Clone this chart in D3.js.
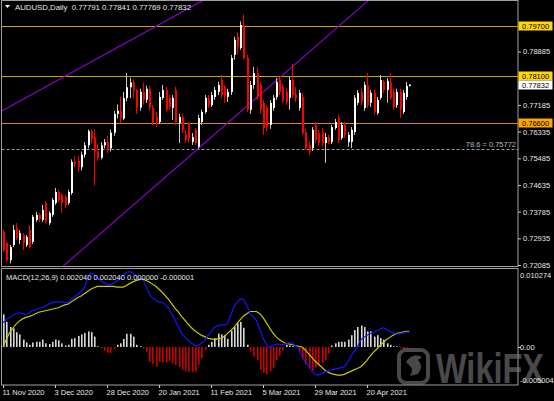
<!DOCTYPE html>
<html><head><meta charset="utf-8">
<script src="https://cdn.jsdelivr.net/npm/d3@7/dist/d3.min.js"></script>
<style>
html,body{margin:0;padding:0;background:#000;}
svg{display:block;}
text{font-family:"Liberation Sans",Arial,sans-serif;}
</style></head><body>
<svg id="c" width="554" height="401"></svg>
<script>
// ---------------- DATA ----------------
const symbolTitle = "AUDUSD,Daily";
const lastOHLC = [0.77791, 0.77841, 0.77769, 0.77832];
const macdTitle = "MACD(12,26,9)";
const macdTitleValues = ["0.002040", "0.002040", "0.000000", "-0.000001"];

const open = [0.7314,0.7279,0.7224,0.7272,0.7326,0.7288,0.7304,0.7272,0.7320,0.7282,
0.7352,0.7368,0.7352,0.7406,0.7342,0.7368,0.7406,0.7441,0.7432,0.7425,
0.7406,0.7438,0.7537,0.7540,0.7520,0.7560,0.7590,0.7635,0.7615,0.7570,
0.7550,0.7590,0.7600,0.7580,0.7630,0.7690,0.7700,0.7675,0.7740,0.7775,
0.7790,0.7765,0.7710,0.7760,0.7735,0.7770,0.7709,0.7680,0.7664,0.7741,
0.7766,0.7741,0.7709,0.7766,0.7661,0.7680,0.7623,0.7661,0.7601,0.7639,
0.7585,0.7664,0.7696,0.7741,0.7718,0.7744,0.7760,0.7798,0.7776,0.7744,
0.7760,0.7878,0.7936,0.7900,0.7973,0.7868,0.7703,0.7782,0.7820,0.7782,
0.7725,0.7709,0.7655,0.7709,0.7744,0.7798,0.7776,0.7760,0.7741,0.7798,
0.7750,0.7709,0.7744,0.7632,0.7591,0.7581,0.7655,0.7629,0.7632,0.7597,
0.7616,0.7601,0.7645,0.7677,0.7613,0.7655,0.7600,0.7601,0.7632,0.7725,
0.7760,0.7709,0.7782,0.7725,0.7757,0.7693,0.7741,0.7792,0.7766,0.7789,
0.7760,0.7718,0.7760,0.7696,0.7744,0.77791];
const high = [0.7320,0.7282,0.7272,0.7336,0.7342,0.7320,0.7310,0.7304,0.7336,0.7368,
0.7378,0.7374,0.7400,0.7412,0.7380,0.7422,0.7454,0.7448,0.7438,0.7432,
0.7448,0.7545,0.7555,0.7555,0.7570,0.7600,0.7640,0.7640,0.7640,0.7595,
0.7600,0.7610,0.7620,0.7640,0.7700,0.7720,0.7745,0.7760,0.7820,0.7805,
0.7800,0.7770,0.7770,0.7790,0.7780,0.7780,0.7718,0.7696,0.7760,0.7782,
0.7776,0.7750,0.7750,0.7776,0.7690,0.7690,0.7639,0.7664,0.7629,0.7645,
0.7687,0.7703,0.7750,0.7750,0.7760,0.7776,0.7792,0.7814,0.7782,0.7770,
0.7878,0.7936,0.7950,0.7985,0.8007,0.7878,0.7795,0.7840,0.7840,0.7792,
0.7735,0.7718,0.7734,0.7750,0.7804,0.7808,0.7786,0.7770,0.7808,0.7849,
0.7776,0.7766,0.7757,0.7642,0.7601,0.7648,0.7664,0.7639,0.7645,0.7629,
0.7623,0.7655,0.7674,0.7687,0.7664,0.7664,0.7632,0.7648,0.7750,0.7766,
0.7770,0.7792,0.7820,0.7766,0.7766,0.7744,0.7814,0.7798,0.7804,0.7820,
0.7770,0.7770,0.7770,0.7766,0.7792,0.77841];
const low = [0.7250,0.7218,0.7214,0.7266,0.7288,0.7275,0.7256,0.7266,0.7260,0.7275,
0.7346,0.7346,0.7346,0.7340,0.7336,0.7362,0.7400,0.7410,0.7374,0.7390,
0.7400,0.7432,0.7520,0.7505,0.7510,0.7550,0.7580,0.7595,0.7462,0.7540,
0.7545,0.7580,0.7565,0.7570,0.7620,0.7675,0.7660,0.7670,0.7730,0.7740,
0.7740,0.7690,0.7700,0.7720,0.7725,0.7700,0.7655,0.7648,0.7658,0.7735,
0.7696,0.7703,0.7671,0.7655,0.7597,0.7629,0.7597,0.7597,0.7591,0.7591,
0.7581,0.7655,0.7690,0.7709,0.7712,0.7735,0.7750,0.7741,0.7725,0.7728,
0.7750,0.7862,0.7880,0.7894,0.7862,0.7696,0.7690,0.7770,0.7735,0.7690,
0.7623,0.7635,0.7642,0.7700,0.7735,0.7750,0.7725,0.7718,0.7703,0.7741,
0.7728,0.7700,0.7623,0.7575,0.7559,0.7572,0.7597,0.7588,0.7585,0.7534,
0.7594,0.7594,0.7639,0.7597,0.7607,0.7613,0.7585,0.7581,0.7623,0.7718,
0.7718,0.7700,0.7709,0.7712,0.7687,0.7687,0.7735,0.7757,0.7725,0.7735,
0.7703,0.7709,0.7677,0.7690,0.7735,0.77769];
const close = [0.7256,0.7224,0.7266,0.7320,0.7295,0.7310,0.7279,0.7298,0.7266,0.7362,
0.7368,0.7355,0.7384,0.7346,0.7374,0.7416,0.7441,0.7416,0.7406,0.7400,
0.7441,0.7537,0.7530,0.7520,0.7560,0.7590,0.7635,0.7610,0.7570,0.7550,
0.7590,0.7600,0.7580,0.7630,0.7690,0.7700,0.7675,0.7740,0.7775,0.7790,
0.7765,0.7710,0.7760,0.7735,0.7770,0.7710,0.7661,0.7664,0.7744,0.7766,
0.7703,0.7712,0.7741,0.7664,0.7680,0.7639,0.7607,0.7613,0.7616,0.7597,
0.7677,0.7696,0.7741,0.7718,0.7750,0.7766,0.7782,0.7750,0.7744,0.7760,
0.7868,0.7926,0.7904,0.7973,0.7868,0.7703,0.7782,0.7820,0.7744,0.7703,
0.7645,0.7648,0.7725,0.7741,0.7792,0.7760,0.7734,0.7728,0.7798,0.7750,
0.7741,0.7757,0.7629,0.7581,0.7569,0.7639,0.7607,0.7597,0.7597,0.7616,
0.7601,0.7648,0.7664,0.7607,0.7655,0.7623,0.7623,0.7639,0.7741,0.7757,
0.7728,0.7782,0.7718,0.7757,0.7696,0.7734,0.7798,0.7766,0.7795,0.7741,
0.7712,0.7760,0.7703,0.7757,0.7779,0.77832];

const macdMain = [0.0033,0.0037,0.0040,0.0043,0.0045,0.0046,0.0045,0.0044,0.0046,0.0049,
0.0050,0.0052,0.0053,0.0055,0.0058,0.0060,0.0061,0.0061,0.0061,0.0060,
0.0060,0.0064,0.0068,0.0071,0.0075,0.0080,0.0092,0.0100,0.0098,0.0094,
0.0090,0.0087,0.0085,0.0084,0.0086,0.0089,0.0093,0.0097,0.0101,0.0102,
0.0100,0.0096,0.0093,0.0092,0.0082,0.0072,0.0066,0.0063,0.0061,0.0060,
0.0057,0.0052,0.0044,0.0036,0.0027,0.0018,0.0013,0.0009,0.0005,0.0002,
0.0002,0.0005,0.0009,0.0015,0.0020,0.0026,0.0029,0.0030,0.0030,0.0031,
0.0042,0.0054,0.0060,0.0065,0.0064,0.0057,0.0045,0.0041,0.0036,0.0024,
0.0012,0.0004,-0.0001,0.0002,0.0004,0.0004,0.0003,0.0004,0.0006,0.0005,
0.0002,-0.0003,-0.0013,-0.0020,-0.0026,-0.0032,-0.0037,-0.0038,-0.0036,-0.0034,
-0.0032,-0.0031,-0.0030,-0.0029,-0.0028,-0.0027,-0.0021,-0.0013,-0.0006,0.0000,
0.0009,0.0013,0.0016,0.0018,0.0020,0.0022,0.0024,0.0026,0.0024,0.0021,
0.0019,0.0017,0.0018,0.0019,0.0020,0.0020];
const macdSignal = [0.0000,0.0010,0.0019,0.0025,0.0031,0.0035,0.0038,0.0040,0.0041,0.0043,
0.0045,0.0047,0.0048,0.0049,0.0050,0.0051,0.0052,0.0053,0.0055,0.0057,
0.0058,0.0061,0.0064,0.0067,0.0069,0.0072,0.0075,0.0078,0.0080,0.0082,
0.0082,0.0082,0.0082,0.0082,0.0082,0.0081,0.0081,0.0081,0.0083,0.0086,
0.0088,0.0090,0.0091,0.0092,0.0090,0.0088,0.0085,0.0082,0.0078,0.0074,
0.0069,0.0064,0.0058,0.0052,0.0047,0.0041,0.0036,0.0031,0.0026,0.0022,
0.0019,0.0016,0.0014,0.0012,0.0011,0.0010,0.0011,0.0012,0.0014,0.0018,
0.0022,0.0026,0.0032,0.0037,0.0042,0.0045,0.0048,0.0048,0.0048,0.0045,
0.0040,0.0033,0.0026,0.0019,0.0014,0.0010,0.0007,0.0005,0.0004,0.0003,
0.0002,0.0001,0.0000,-0.0004,-0.0009,-0.0014,-0.0019,-0.0023,-0.0027,-0.0031,
-0.0034,-0.0036,-0.0037,-0.0038,-0.0038,-0.0037,-0.0035,-0.0033,-0.0031,-0.0029,
-0.0027,-0.0023,-0.0018,-0.0012,-0.0007,-0.0003,0.0002,0.0006,0.0010,0.0013,
0.0016,0.0018,0.0019,0.0020,0.0021,0.0021];
const macdHist = [0.0044,0.0034,0.0027,0.0025,0.0020,0.0017,0.0010,0.0006,0.0003,0.0006,
0.0007,0.0007,0.0010,0.0005,0.0004,0.0007,0.0010,0.0009,0.0005,0.0002,
0.0003,0.0011,0.0012,0.0015,0.0017,0.0019,0.0021,0.0020,0.0014,0.0001,
-0.0002,-0.0005,-0.0008,-0.0008,-0.0003,0.0003,0.0005,0.0011,0.0018,0.0018,
0.0014,0.0003,0.0001,-0.0002,-0.0006,-0.0020,-0.0023,-0.0027,-0.0020,-0.0021,
-0.0021,-0.0019,-0.0022,-0.0024,-0.0027,-0.0031,-0.0033,-0.0034,-0.0034,-0.0033,
-0.0024,-0.0015,-0.0004,0.0003,0.0007,0.0012,0.0018,0.0017,0.0016,0.0011,
0.0022,0.0027,0.0032,0.0034,0.0026,0.0003,-0.0006,-0.0013,-0.0018,-0.0031,
-0.0035,-0.0037,-0.0033,-0.0028,-0.0018,-0.0012,-0.0005,0.0003,0.0002,0.0001,
0.0000,-0.0005,-0.0016,-0.0024,-0.0029,-0.0032,-0.0028,-0.0026,-0.0022,-0.0018,
-0.0009,0.0002,0.0005,0.0007,0.0007,0.0007,0.0010,0.0016,0.0023,0.0027,
0.0029,0.0027,0.0021,0.0021,0.0014,0.0016,0.0012,0.0010,0.0005,0.0003,
0.0001,0.0001,-0.0002,-0.0003,-0.0001,0.0000];

const priceTicks = [0.72085,0.72935,0.73785,0.74635,0.75485,0.76335,0.77185,0.78885];
const macdTicks = [0.010274, 0, -0.005004];
const macdTickLabels = ["0.010274", "0.00", "-0.005004"];
const dateTickIndex = [0,16,32,48,64,80,96,112];
const dateTickLabels = ["11 Nov 2020","3 Dec 2020","28 Dec 2020","20 Jan 2021","11 Feb 2021","5 Mar 2021","29 Mar 2021","20 Apr 2021"];
const levelValues = [0.79700, 0.78100, 0.76600];
const fibValue = 0.75772;
const fibName = "78.6";
// trend lines: [barIndex, price] anchor pairs
const trendUpper = [[-0.9, 0.7696], [61.8, 0.8053]];
const trendLower = [[18.5, 0.7205], [112.6, 0.8053]];

// ---------------- LAYOUT ----------------
const W = 554, H = 401;
const plotL = 1.5, plotR = 518;
const mainTop = 0.5, mainBot = 266.5;
const macdTop = 268.5, macdBot = 385;
const svg = d3.select("#c");
svg.append("rect").attr("width", W).attr("height", H).attr("fill", "#000");

const x = d3.scaleLinear().domain([0, 125]).range([3, 409.25]);
const y = d3.scaleLinear().domain([0.72085, 0.79700]).range([265, 26]);
const yM = d3.scaleLinear().domain([-0.005004, 0.010274]).range([384, 271]);
const fmt5 = d3.format(".5f");
const px = i => Math.round(x(i));

const defs = svg.append("defs");
defs.append("clipPath").attr("id","clipMain").append("rect")
  .attr("x", plotL).attr("y", mainTop).attr("width", plotR - plotL).attr("height", mainBot - mainTop);
defs.append("clipPath").attr("id","clipMacd").append("rect")
  .attr("x", plotL).attr("y", macdTop).attr("width", plotR - plotL).attr("height", macdBot - macdTop);

// ---------- MAIN PANEL ----------
const gMain = svg.append("g").attr("clip-path", "url(#clipMain)");

const levelColors = ["#c8a000", "#c8a000", "#d99000"];
gMain.selectAll("line.lvl").data(levelValues).join("line")
  .attr("x1", plotL).attr("x2", plotR)
  .attr("y1", d => Math.round(y(d)) + 0.5).attr("y2", d => Math.round(y(d)) + 0.5)
  .attr("stroke", (d, i) => levelColors[i]).attr("stroke-width", 1);

gMain.append("line").attr("x1", plotL).attr("x2", plotR)
  .attr("y1", Math.round(y(fibValue)) + 0.5).attr("y2", Math.round(y(fibValue)) + 0.5)
  .attr("stroke", "#9a9a9a").attr("stroke-dasharray", "3,2");
gMain.append("text").attr("x", 516).attr("y", Math.round(y(fibValue)) - 2.5)
  .attr("text-anchor", "end").attr("font-size", 7.5).attr("fill", "#a9bccc")
  .text(fibName + " = " + fmt5(fibValue));

[trendUpper, trendLower].forEach(t => {
  gMain.append("line")
    .attr("x1", x(t[0][0])).attr("y1", y(t[0][1]))
    .attr("x2", x(t[1][0])).attr("y2", y(t[1][1]))
    .attr("stroke", "#9400d3").attr("stroke-width", 1.1);
});

const idx = d3.range(close.length);
gMain.selectAll("line.wick").data(idx).join("line")
  .attr("x1", i => px(i) + 0.5).attr("x2", i => px(i) + 0.5)
  .attr("y1", i => y(high[i])).attr("y2", i => y(low[i]))
  .attr("stroke", i => close[i] >= open[i] ? "#c8c8c8" : "#ff0000").attr("stroke-width", 1);
gMain.selectAll("rect.body").data(idx).join("rect")
  .attr("x", i => px(i))
  .attr("width", 2)
  .attr("y", i => Math.min(y(open[i]), y(close[i])))
  .attr("height", i => Math.max(1, Math.abs(y(open[i]) - y(close[i]))))
  .attr("fill", i => close[i] >= open[i] ? "#ffffff" : "#ff0000");

// ---------- MACD PANEL ----------
const gMacd = svg.append("g").attr("clip-path", "url(#clipMacd)");
gMacd.selectAll("rect.h").data(idx).join("rect")
  .attr("x", i => px(i))
  .attr("width", 1.6)
  .attr("y", i => Math.min(yM(0), yM(macdHist[i])))
  .attr("height", i => Math.abs(yM(macdHist[i]) - yM(0)))
  .attr("fill", i => macdHist[i] >= 0 ? "#d8d8d8" : "#cc0000");
const lineGen = arr => d3.line().x((d, i) => x(i)).y(d => yM(d))(arr);
gMacd.append("path").attr("d", lineGen(macdSignal)).attr("fill", "none")
  .attr("stroke", "#c8c800").attr("stroke-width", 1.2);
gMacd.append("path").attr("d", lineGen(macdMain)).attr("fill", "none")
  .attr("stroke", "#1414ff").attr("stroke-width", 1.2);

// ---------- FRAMES ----------
svg.append("rect").attr("x", plotL).attr("y", mainTop).attr("width", plotR - plotL).attr("height", mainBot - mainTop)
  .attr("fill", "none").attr("stroke", "#a0a0a0");
svg.append("rect").attr("x", plotL).attr("y", macdTop).attr("width", plotR - plotL).attr("height", macdBot - macdTop)
  .attr("fill", "none").attr("stroke", "#a0a0a0");

// ---------- WATERMARK ----------
const wm = svg.append("g").attr("opacity", 0.6);
wm.append("rect").attr("x", 399).attr("y", 350).attr("width", 29).attr("height", 33).attr("rx", 7)
  .attr("fill", "none").attr("stroke", "#7a7a7a").attr("stroke-width", 4);
wm.append("path").attr("d", "M406,362 Q413,352 422,357 L418,360 Q424,366 418,374 L410,376 Q414,369 410,366 Z")
  .attr("fill", "#7a7a7a");
wm.append("text").attr("x", 436).attr("y", 383).attr("font-size", 42).attr("font-weight", "bold")
  .attr("fill", "#7a7a7a").attr("textLength", 108).attr("lengthAdjust", "spacingAndGlyphs").text("WikiFX");

// ---------- AXES ----------
const axisR = svg.append("g").attr("transform", `translate(${plotR},0)`)
  .call(d3.axisRight(y).tickValues(priceTicks).tickFormat(fmt5).tickSize(3).tickPadding(2));
axisR.select(".domain").remove();
axisR.selectAll("line").attr("stroke", "#c8c8c8");
axisR.selectAll("text").attr("fill", "#e6e6e6").attr("font-size", 7.5)
  .attr("font-family", "Liberation Sans, Arial, sans-serif");

const axisM = svg.append("g").attr("transform", `translate(${plotR},0)`)
  .call(d3.axisRight(yM).tickValues(macdTicks).tickFormat((d, i) => macdTickLabels[i]).tickSize(0).tickPadding(2));
axisM.select(".domain").remove();
axisM.selectAll("text").attr("fill", "#e6e6e6").attr("font-size", 7.5)
  .attr("font-family", "Liberation Sans, Arial, sans-serif")
  .attr("dy", (d, i) => i === 0 ? "0.85em" : (i === 2 ? "-0.15em" : "0.32em"));
axisM.selectAll(".tick").filter(d => d === 0).append("line").attr("x2", 3).attr("stroke", "#c8c8c8");

const boxFill = ["#ffd800", "#ffd800", "#ffa500"];
const boxes = levelValues.map((v, i) => ({v, fill: boxFill[i]}))
  .concat([{v: lastOHLC[3], fill: "#ffffff"}]);
const bg = svg.append("g").selectAll("g").data(boxes).join("g")
  .attr("transform", d => `translate(${plotR},${Math.round(y(d.v))})`);
bg.append("rect").attr("x", 0.5).attr("y", -4.5).attr("width", 34).attr("height", 9).attr("fill", d => d.fill);
bg.append("text").attr("x", 4).attr("y", 3).attr("font-size", 7.5).attr("fill", "#000").text(d => fmt5(d.v));

const axisB = svg.append("g").attr("transform", `translate(0,${macdBot})`)
  .call(d3.axisBottom(x).tickValues(dateTickIndex).tickFormat((d, i) => dateTickLabels[i]).tickSize(3).tickPadding(2));
axisB.select(".domain").remove();
axisB.selectAll("line").attr("stroke", "#c8c8c8");
axisB.selectAll("text").attr("fill", "#e6e6e6").attr("font-size", 7.5).attr("text-anchor", "start")
  .attr("font-family", "Liberation Sans, Arial, sans-serif").attr("x", -1);

svg.append("path").attr("d", "M5,5 L10,5 L7.5,8 Z").attr("fill", "#fff");
svg.append("text").attr("x", 15).attr("y", 10).attr("font-size", 7.8).attr("fill", "#e8e8e8")
  .attr("xml:space", "preserve")
  .text(symbolTitle + "  " + lastOHLC.map(fmt5).join(" "));
svg.append("text").attr("x", 6).attr("y", 280).attr("font-size", 7.5).attr("fill", "#e8e8e8")
  .text(macdTitle + " " + macdTitleValues.join(" "));
</script>
</body></html>
